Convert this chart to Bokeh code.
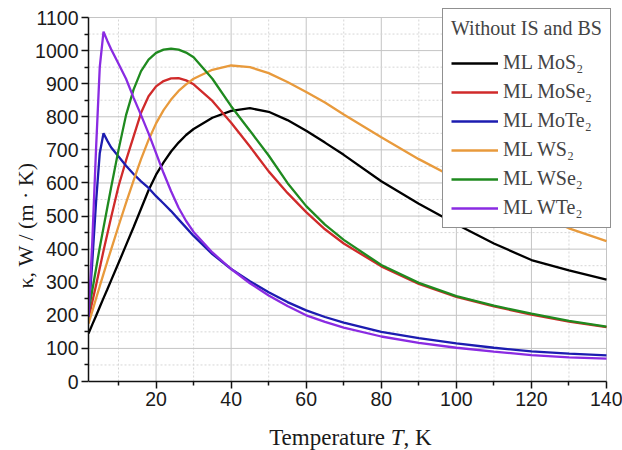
from bokeh.plotting import figure
from bokeh.models import FixedTicker, Range1d, Legend, LegendItem, Label
from bokeh.embed import file_html
from bokeh.resources import INLINE

# Temperature grid (K)
T = [2, 3, 4, 5, 6, 7, 8, 10, 12, 14, 16, 18, 20, 22, 24, 26, 28, 30, 35, 40,
     45, 50, 55, 60, 65, 70, 80, 90, 100, 110, 120, 130, 140]

# Thermal conductivity, W/(m K)
k_MoS2 = [145, 172, 198, 225, 252, 278, 305, 358, 412, 466, 522, 578, 625, 662, 695, 722, 745, 763, 797, 818,
          826, 815, 790, 758, 722, 685, 605, 537, 475, 417, 367, 336, 308]
k_MoSe2 = [190, 240, 290, 343, 395, 445, 495, 590, 668, 740, 812, 862, 892, 908, 916, 917, 910, 898, 848, 782,
           710, 635, 570, 512, 460, 417, 348, 295, 256, 227, 202, 181, 164]
k_MoTe2 = [195, 360, 540, 690, 750, 728, 708, 680, 652, 627, 605, 585, 560, 538, 515, 490, 465, 440, 385, 340,
           303, 270, 240, 215, 195, 178, 150, 131, 115, 102, 91, 84, 79]
k_WS2 = [175, 212, 250, 288, 325, 362, 398, 470, 540, 607, 672, 730, 780, 820, 852, 878, 898, 915, 942, 955,
         950, 932, 905, 875, 843, 807, 738, 672, 613, 560, 510, 463, 424]
k_WSe2 = [210, 275, 340, 405, 465, 525, 585, 700, 805, 882, 938, 973, 993, 1003, 1006, 1003, 994, 980, 915, 832,
          758, 683, 600, 530, 474, 428, 352, 298, 258, 229, 205, 183, 166]
k_WTe2 = [195, 420, 700, 950, 1057, 1030, 1005, 960, 915, 858, 805, 750, 690, 630, 575, 525, 485, 452, 390, 340,
          297, 260, 228, 200, 180, 163, 136, 117, 102, 90, 80, 73, 69]

names = ["ML MoS\u2082", "ML MoSe\u2082", "ML MoTe\u2082", "ML WS\u2082", "ML WSe\u2082", "ML WTe\u2082"]
series = [k_MoS2, k_MoSe2, k_MoTe2, k_WS2, k_WSe2, k_WTe2]
colors = ["#000000", "#d02a2a", "#1c1cb0", "#e89a3c", "#1f8a1f", "#8a2be2"]

x_major = [20, 40, 60, 80, 100, 120, 140]
x_minor = [10, 30, 50, 70, 90, 110, 130]
y_major = list(range(0, 1200, 100))
y_minor = list(range(50, 1100, 100))
T_MIN, T_MAX = 2, 140
K_MIN, K_MAX = 0, 1100

# frame spans the whole canvas; the data area (2..140, 0..1100) sits inside it
p = figure(width=622, height=450, output_backend="svg", toolbar_location=None,
           x_range=Range1d(T_MIN, 144.26), y_range=Range1d(-208.5, 1151.4),
           min_border_left=88, min_border_right=0, min_border_top=0, min_border_bottom=0)
p.outline_line_color = None

p.xaxis.ticker = FixedTicker(ticks=x_major, minor_ticks=x_minor)
p.yaxis.ticker = FixedTicker(ticks=y_major, minor_ticks=y_minor)
p.xaxis.fixed_location = K_MIN
p.xaxis.bounds = (T_MIN, T_MAX)
p.yaxis.bounds = (K_MIN, K_MAX)

for ax in (p.xaxis, p.yaxis):
    ax.axis_line_width = 1.5
    ax.axis_line_color = "#111111"
    ax.major_tick_line_width = 1.5
    ax.minor_tick_line_width = 1.5
    ax.major_tick_line_color = "#111111"
    ax.minor_tick_line_color = "#111111"
    ax.major_tick_out = 7
    ax.major_tick_in = 0
    ax.minor_tick_out = 4
    ax.minor_tick_in = 0
    ax.major_label_text_font = "Liberation Sans"
    ax.major_label_text_font_size = "19.5px"
    ax.major_label_text_color = "#1a1a1a"
    ax.major_label_standoff = 3

p.yaxis.axis_label = "\u03ba, W / (m \u00b7 K)"
p.yaxis.axis_label_text_font = "Liberation Serif"
p.yaxis.axis_label_text_font_style = "normal"
p.yaxis.axis_label_text_font_size = "22px"
p.yaxis.axis_label_standoff = -6
p.yaxis.axis_label_text_color = "#1a1a1a"

# grid lines drawn from the tick lists, bounded to the data area
p.xgrid.visible = False
p.ygrid.visible = False
major_c, minor_c = "#c4c4c4", "#d6d6d6"
p.segment(x0=x_major, y0=[K_MIN] * len(x_major), x1=x_major, y1=[K_MAX] * len(x_major),
          line_color=major_c, line_width=1)
p.segment(x0=x_minor, y0=[K_MIN] * len(x_minor), x1=x_minor, y1=[K_MAX] * len(x_minor),
          line_color=minor_c, line_width=1, line_dash="2 2")
p.segment(x0=[T_MIN] * len(y_major), y0=y_major, x1=[T_MAX] * len(y_major), y1=y_major,
          line_color=major_c, line_width=1)
p.segment(x0=[T_MIN] * len(y_minor), y0=y_minor, x1=[T_MAX] * len(y_minor), y1=y_minor,
          line_color=minor_c, line_width=1, line_dash="2 2")

renderers = []
for ys, c in zip(series, colors):
    r = p.line(T, ys, line_color=c, line_width=2.3)
    renderers.append(r)

items = [LegendItem(label=n, renderers=[r]) for n, r in zip(names, renderers)]
legend = Legend(items=items, title="Without IS and BS", location=(354, 222))
legend.title_text_font = "Liberation Serif"
legend.title_text_font_size = "20px"
legend.title_text_font_style = "normal"
legend.title_standoff = 11
legend.label_text_font = "Liberation Serif"
legend.label_text_font_size = "20px"
legend.glyph_width = 47
legend.glyph_height = 20
legend.label_height = 20
legend.label_standoff = 5
legend.spacing = 6
legend.padding = 8
legend.margin = 0
legend.border_line_color = "#222222"
legend.border_line_width = 1
legend.background_fill_alpha = 1
p.add_layout(legend, "center")

# x-axis title with italic T
common = dict(y=-169, text_font="Liberation Serif", text_font_size="23px",
              text_baseline="middle", text_color="#1a1a1a")
p.add_layout(Label(x=81.0, text="Temperature", text_align="right", **common))
p.add_layout(Label(x=82.5, text="T", text_align="left", text_font_style="italic", **common))
p.add_layout(Label(x=85.9, text=", K", text_align="left", **common))

open("out.html", "w").write(file_html(p, INLINE))
